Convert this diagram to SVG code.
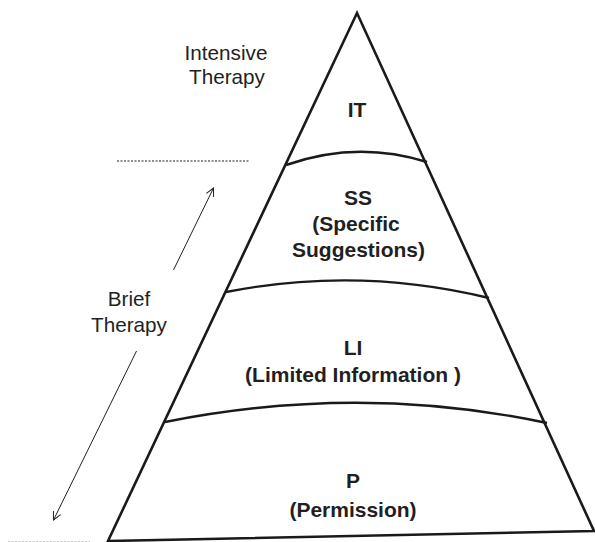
<svg xmlns="http://www.w3.org/2000/svg" width="595" height="542" viewBox="0 0 595 542">
<style>
.edge{fill:none;stroke:#1a1a1a;stroke-width:2.6;stroke-linejoin:miter}
.arc{fill:none;stroke:#1a1a1a;stroke-width:2.4}
.lbl{font-family:"Liberation Sans",Arial,sans-serif;font-weight:bold;font-size:21px;fill:#231f20;text-anchor:middle}
.side{font-family:"Liberation Sans",Arial,sans-serif;font-size:20.7px;fill:#231f20;text-anchor:middle}
.arrow{fill:none;stroke:#231f20;stroke-width:1}
</style>
<defs>
<marker id="open" viewBox="0 0 10 10" refX="9" refY="5" markerWidth="10" markerHeight="10" markerUnits="userSpaceOnUse" orient="auto">
<path d="M1,1 L9,5 L1,9" fill="none" stroke="#231f20" stroke-width="1"/>
</marker>
</defs>
<rect width="595" height="542" fill="#ffffff"/>
<g id="pyramid">
<path class="edge" d="M108,541 L357,13 L594,531 Z"/>
</g>
<g id="IT">
<text class="lbl" x="357" y="117">IT</text>
</g>
<g id="SS">
<path class="arc" d="M286,165 Q357,140 427,162"/>
<text class="lbl" x="358" y="205">SS</text>
<text class="lbl" x="356" y="231">(Specific</text>
<text class="lbl" x="358.5" y="257">Suggestions)</text>
</g>
<g id="LI">
<path class="arc" d="M226,292 Q358,266 489,298"/>
<text class="lbl" x="353" y="355">LI</text>
<text class="lbl" x="353" y="382">(Limited Information )</text>
</g>
<g id="P">
<path class="arc" d="M165,422 Q360,383 547,423"/>
<text class="lbl" x="353" y="488">P</text>
<text class="lbl" x="353" y="517">(Permission)</text>
</g>
<g id="intensive">
<text class="side" x="226" y="60">Intensive</text>
<text class="side" x="227" y="84">Therapy</text>
</g>
<g id="brief">
<text class="side" x="129" y="306">Brief</text>
<text class="side" x="129" y="332">Therapy</text>
</g>
<g id="connectors">
<line x1="117" y1="161" x2="250" y2="161" stroke="#231f20" stroke-width="1" stroke-dasharray="2,1.5"/>
<line x1="8" y1="541.5" x2="90" y2="541.5" stroke="#c8c8c8" stroke-width="1" stroke-dasharray="2,1.5"/>
<line class="arrow" x1="173.5" y1="270" x2="213.5" y2="188" marker-end="url(#open)"/>
<line class="arrow" x1="136.5" y1="351" x2="53.5" y2="520" marker-end="url(#open)"/>
</g>
</svg>
